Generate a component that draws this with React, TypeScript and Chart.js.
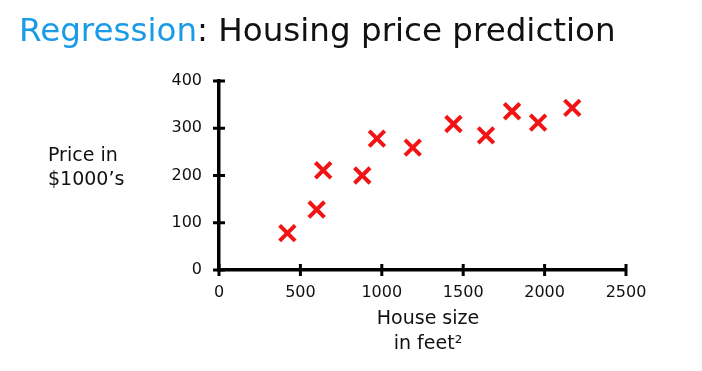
import React, { useEffect, useRef } from "react";
import { Chart, registerables } from "chart.js";

Chart.register(...registerables);

const houseSize = [420, 600, 640, 880, 970, 1190, 1440, 1640, 1800, 1960, 2170];
const pricesK = [78, 128, 211, 200, 278, 259, 309, 285, 336, 312, 343];
const xTicks = [0, 500, 1000, 1500, 2000, 2500];
const yTicks = [0, 100, 200, 300, 400];
const titleBlue = "Regression";
const titleRest = ": Housing price prediction";
const yLabelLines = ["Price in", "$1000\u2019s"];
const xLabelLines = ["House size", "in feet\u00b2"];

const FONT = "'DejaVu Sans', Verdana, sans-serif";

const decorPlugin = {
  id: "decor",
  afterDraw(chart: any) {
    const ctx = chart.ctx as CanvasRenderingContext2D;
    const xs = chart.scales.x;
    const ys = chart.scales.y;
    ctx.save();
    ctx.strokeStyle = "#000";
    ctx.lineWidth = 3;
    const ax = xs.getPixelForValue(0);
    const ay = ys.getPixelForValue(0);
    yTicks.forEach((v) => {
      const p = ys.getPixelForValue(v);
      ctx.beginPath();
      ctx.moveTo(ax - 6, p);
      ctx.lineTo(ax + 6, p);
      ctx.stroke();
    });
    xTicks.forEach((v) => {
      const p = xs.getPixelForValue(v);
      ctx.beginPath();
      ctx.moveTo(p, ay - 6);
      ctx.lineTo(p, ay + 6);
      ctx.stroke();
    });
    let size = 34;
    ctx.font = `${size}px ${FONT}`;
    const w = ctx.measureText(titleBlue + titleRest).width;
    size = Math.min(34, (34 * 597) / w);
    ctx.font = `${size}px ${FONT}`;
    ctx.textBaseline = "alphabetic";
    ctx.textAlign = "left";
    ctx.fillStyle = "#1a9be8";
    ctx.fillText(titleBlue, 19, 41);
    const bw = ctx.measureText(titleBlue).width;
    ctx.fillStyle = "#111";
    ctx.fillText(titleRest, 19 + bw, 41);
    ctx.font = `19px ${FONT}`;
    ctx.textBaseline = "middle";
    ctx.fillStyle = "#111";
    yLabelLines.forEach((t, i) => ctx.fillText(t, 48, 156 + i * 24));
    ctx.textAlign = "center";
    xLabelLines.forEach((t, i) => ctx.fillText(t, 428, 319 + i * 25));
    ctx.restore();
  },
};

export default function App() {
  const ref = useRef<HTMLCanvasElement>(null);
  useEffect(() => {
    if (!ref.current) return;
    const chart = new Chart(ref.current, {
      type: "scatter",
      data: {
        datasets: [
          {
            data: houseSize.map((x, i) => ({ x, y: pricesK[i] })),
            pointStyle: "crossRot",
            pointRadius: 11,
            pointBorderWidth: 4,
            borderColor: "#f21414",
            backgroundColor: "#f21414",
            clip: false as any,
          },
        ],
      },
      options: {
        responsive: false,
        animation: false,
        layout: { padding: { left: 0, right: 76, top: 81, bottom: 14 } },
        plugins: { legend: { display: false }, tooltip: { enabled: false } },
        scales: {
          x: {
            type: "linear",
            min: 0,
            max: 2500,
            afterBuildTicks: (s: any) => {
              s.ticks = xTicks.map((v) => ({ value: v }));
            },
            afterFit: (s: any) => {
              s.height = 87;
            },
            grid: { display: false },
            border: { display: true, color: "#000", width: 3.5 },
            ticks: {
              color: "#111",
              font: { family: FONT, size: 16 },
              padding: 5,
              maxRotation: 0,
              callback: (v: any) => String(v),
            },
          },
          y: {
            type: "linear",
            min: 0,
            max: 400,
            afterBuildTicks: (s: any) => {
              s.ticks = yTicks.map((v) => ({ value: v }));
            },
            afterFit: (s: any) => {
              s.width = 219;
            },
            grid: { display: false },
            border: { display: true, color: "#000", width: 3.5 },
            ticks: {
              color: "#111",
              font: { family: FONT, size: 16 },
              padding: 9,
              callback: (v: any) => String(v),
            },
          },
        },
      },
      plugins: [decorPlugin],
    });
    return () => chart.destroy();
  }, []);
  return (
    <div style={{ position: "fixed", left: 0, top: 0, width: 702, height: 371, background: "#fff" }}>
      <canvas ref={ref} width={702} height={371} />
    </div>
  );
}
